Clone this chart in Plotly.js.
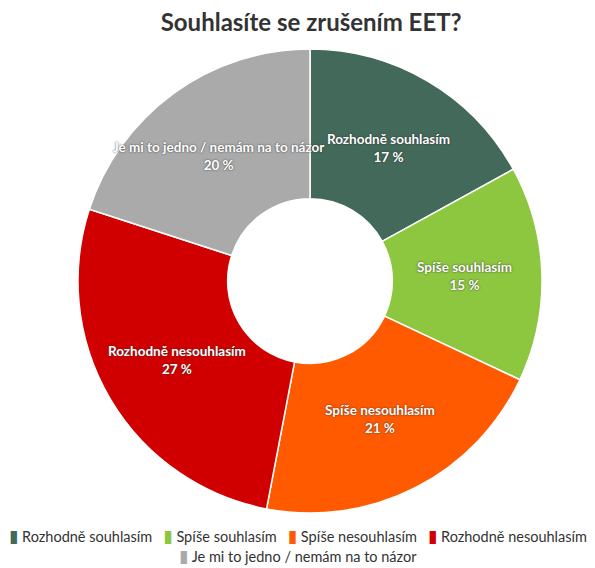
<!DOCTYPE html>
<html>
<head>
<meta charset="utf-8">
<script src="https://cdn.plot.ly/plotly-3.0.1.min.js"></script>
<style>html,body{margin:0;padding:0;background:#fff;}</style>
</head>
<body>
<div id="chart" style="width:595px;height:568px;"></div>
<script>
const categories = ["Rozhodně souhlasím", "Spíše souhlasím", "Spíše nesouhlasím", "Rozhodně nesouhlasím", "Je mi to jedno / nemám na to názor"];
const values = [17, 15, 21, 27, 20];
const colors = ["#43695a", "#8dc63f", "#ff5a00", "#d10000", "#aaaaaa"];
const legendRows = [[0, 1, 2, 3], [4]];
const FONT = "'Source Sans Pro', Lato, 'Noto Sans', sans-serif";

const W = 595, H = 568;
const cx = 310, cy = 281, R = 232;           // pie geometry in px
const labelR = 155;                            // radius for slice labels

const trace = {
  type: "pie",
  labels: categories,
  values: values,
  sort: false,
  direction: "clockwise",
  rotation: 0,
  hole: 0.355,
  marker: {colors: colors, line: {color: "#ffffff", width: 1.5}},
  textinfo: "none",
  showlegend: false,
  domain: {x: [(cx - R) / W, (cx + R) / W], y: [1 - (cy + R) / H, 1 - (cy - R) / H]},
  hoverinfo: "label+percent"
};

// slice labels placed at mid-angle of each slice
const total = values.reduce((a, b) => a + b, 0);
const annotations = [];
let cum = 0;
values.forEach((v, i) => {
  const mid = (cum + v / 2) / total * 2 * Math.PI;
  cum += v;
  const px = cx + labelR * Math.sin(mid);
  const py = cy - labelR * Math.cos(mid);
  annotations.push({
    xref: "paper", yref: "paper", x: px / W, y: 1 - py / H,
    xanchor: "center", yanchor: "middle", showarrow: false,
    text: "<b>" + categories[i] + "</b><br><b>" + v + " %</b>",
    font: {family: FONT, size: 13.5, color: "#ffffff", shadow: "0px 0px 2px rgba(40,40,40,0.9)"}
  });
});

// legend rows built from categories and colours (bottom edge of each row box, px)
const legendBottom = [547, 567];
legendRows.forEach((row, r) => {
  const txt = row.map(i => "<span style=\"font-family:'DejaVu Sans';font-size:17px;color:" + colors[i] + "\">▮</span> " + categories[i]).join("   ");
  annotations.push({
    xref: "paper", yref: "paper", x: 0.5, y: 1 - legendBottom[r] / H,
    xanchor: "center", yanchor: "bottom", showarrow: false,
    text: txt, borderpad: 0,
    font: {family: FONT, size: 14.5, color: "#333333"}
  });
});

const layout = {
  width: W,
  height: H,
  margin: {l: 0, r: 0, t: 0, b: 0},
  paper_bgcolor: "#ffffff",
  title: {text: "<b>Souhlasíte se zrušením EET?</b>", font: {family: FONT, size: 24, color: "#333333"}, x: 0.523, xanchor: "center", y: 0.96, yanchor: "middle"},
  showlegend: false,
  annotations: annotations,
  font: {family: FONT}
};

Plotly.newPlot("chart", [trace], layout, {displayModeBar: false, staticPlot: true});
</script>
</body>
</html>
